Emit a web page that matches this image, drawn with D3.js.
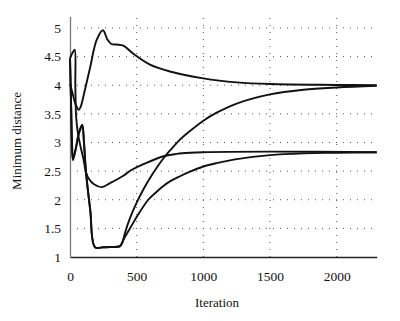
<!DOCTYPE html>
<html><head><meta charset="utf-8">
<script src="https://cdn.jsdelivr.net/npm/d3@7"></script>
<style>body{margin:0;background:#fff}svg{display:block}</style>
</head><body>
<script>
const xTicks = [0, 500, 1000, 1500, 2000];
const yTicks = [1, 1.5, 2, 2.5, 3, 3.5, 4, 4.5, 5];
const xLabel = "Iteration";
const yLabel = "Minimum distance";

const seriesA = [[0,4.03],[20,3.85],[40,3.68],[65,3.57],[80,3.62],[100,3.8],[150,4.3],[200,4.79],[247,4.96],[280,4.8],[310,4.72],[350,4.71],[400,4.69],[475,4.55],[600,4.36],[750,4.24],[1000,4.12],[1250,4.05],[1500,4.02],[2000,4.005],[2300,4.0]];
const seriesB = [[0,4.47],[8,3.7],[15,3.0],[22,2.69],[40,2.85],[70,3.2],[92,3.31],[105,3.0],[120,2.49],[152,1.82],[188,1.17],[250,1.17],[300,1.175],[375,1.19],[395,1.27],[412,1.42],[450,1.68],[500,1.95],[550,2.18],[600,2.38],[650,2.56],[700,2.72],[750,2.86],[825,3.05],[900,3.2],[1000,3.38],[1100,3.52],[1250,3.68],[1500,3.84],[1750,3.92],[2000,3.96],[2300,3.99]];
const seriesC = [[0,4.47],[20,4.57],[35,4.62],[40,4.0],[46,3.45],[60,3.15],[77,2.95],[100,2.72],[120,2.48],[140,2.37],[180,2.27],[240,2.22],[300,2.29],[400,2.42],[460,2.52],[550,2.62],[700,2.76],[800,2.8],[900,2.82],[1000,2.83],[1500,2.84],[2300,2.83]];
const seriesD = [[0,4.45],[8,3.68],[15,2.98],[22,2.72],[40,2.86],[70,3.18],[92,3.28],[105,2.98],[120,2.47],[152,1.81],[188,1.17],[250,1.17],[300,1.175],[375,1.19],[400,1.3],[450,1.5],[500,1.7],[587,2.0],[650,2.14],[700,2.24],[750,2.32],[825,2.41],[900,2.49],[1000,2.58],[1100,2.64],[1250,2.71],[1500,2.78],[1750,2.81],[2000,2.82],[2300,2.83]];
const series = [seriesA, seriesB, seriesC, seriesD];

const FONT = "'Times New Roman', Times, 'Liberation Serif', serif";
const W = 400, H = 321;
const svg = d3.select("body").append("svg").attr("width", W).attr("height", H)
  .attr("font-family", FONT);
const x = d3.scaleLinear().domain([0, 2300]).range([70, 376.7]);
const y = d3.scaleLinear().domain([1, 5.2]).range([257, 16.5]);

// grid
const g = svg.append("g");
g.selectAll("line.hg").data(yTicks.filter(d => d > 1)).enter().append("line")
  .attr("x1", x(0)).attr("x2", x(2300)).attr("y1", d => y(d)).attr("y2", d => y(d))
  .attr("stroke", "#555").attr("stroke-width", 1).attr("stroke-dasharray", "1,6");
g.selectAll("line.vg").data(xTicks.filter(d => d > 0)).enter().append("line")
  .attr("x1", d => x(d)).attr("x2", d => x(d)).attr("y1", y(1)).attr("y2", y(5.2))
  .attr("stroke", "#555").attr("stroke-width", 1).attr("stroke-dasharray", "1,6");

// axes
const xAxis = svg.append("g").attr("transform", `translate(0,${y(1)})`)
  .call(d3.axisBottom(x).tickValues(xTicks).tickSize(0).tickPadding(14).tickFormat(d3.format("d")));
xAxis.attr("font-family", FONT).attr("font-size", 13.5);
xAxis.select(".domain").attr("stroke", "#222").attr("stroke-width", 1.3);
xAxis.selectAll("text").attr("fill", "#111");
const yAxis = svg.append("g").attr("transform", `translate(${x(0)},0)`)
  .call(d3.axisLeft(y).tickValues(yTicks).tickSize(0).tickPadding(9).tickFormat(d => String(d)));
yAxis.attr("font-family", FONT).attr("font-size", 13.5);
yAxis.select(".domain").attr("stroke", "#777").attr("stroke-width", 1.3);
yAxis.selectAll("text").attr("fill", "#111");

// lines
const line = d3.line().x(d => x(d[0])).y(d => y(d[1])).curve(d3.curveCatmullRom.alpha(0.5));
svg.append("g").selectAll("path").data(series).enter().append("path")
  .attr("d", line).attr("fill", "none").attr("stroke", "#111").attr("stroke-width", 1.9);

svg.append("text").attr("x", 217).attr("y", 307).attr("text-anchor", "middle").attr("font-size", 13)
  .attr("fill", "#111").text(xLabel);
svg.append("text").attr("transform", "translate(21,141) rotate(-90)").attr("text-anchor", "middle").attr("font-size", 13)
  .attr("fill", "#111").text(yLabel);
</script>
</body></html>
